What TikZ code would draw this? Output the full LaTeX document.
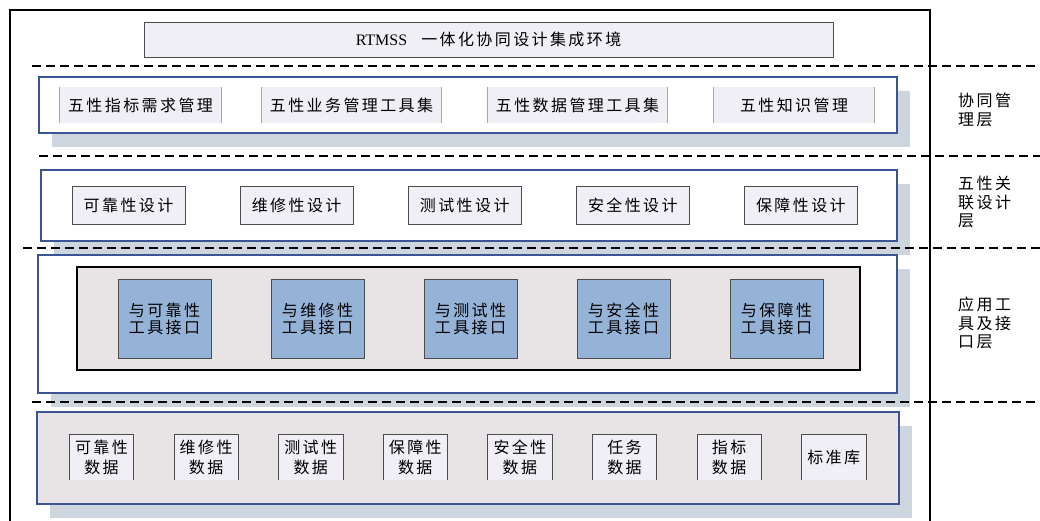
\documentclass[tikz,border=0pt]{standalone}
\usepackage{fontspec}
\setmainfont{Liberation Serif}
\newfontfamily\cjk[LetterSpace=15]{Noto Sans CJK SC}
\usepackage{xcolor}
\usepackage{tikz}
\usetikzlibrary{shadows}
\definecolor{layerblue}{RGB}{58,84,148}
\definecolor{shadowgray}{RGB}{205,213,222}
\definecolor{paleface}{RGB}{240,239,245}
\definecolor{panelgray}{RGB}{232,228,230}
\definecolor{ifaceblue}{RGB}{149,179,215}

\begin{document}
\begin{tikzpicture}
  [x=1pt,y=-1pt,
   every node/.style={inner sep=0pt,align=center,font=\cjk\fontsize{16}{17}\selectfont},
   layer/.style={draw=layerblue,line width=1.6pt,fill=white,
     drop shadow={shadow xshift=13pt,shadow yshift=-14pt,fill=shadowgray,opacity=1}},
   sep/.style={line width=1.8pt,dash pattern=on 9pt off 5pt},
   tool/.style={fill=paleface,minimum height=36},
   toolside/.style={draw=gray!70,line width=1pt},
   design/.style={draw=black!70,line width=0.8pt,fill=paleface,minimum width=113,minimum height=38},
   iface/.style={draw=black!70,line width=0.8pt,fill=ifaceblue,minimum width=93,minimum height=79},
   datum/.style={fill=paleface,minimum width=64,minimum height=45,font=\cjk\fontsize{16}{20}\selectfont},
   sidelabel/.style={anchor=north west,align=left,font=\cjk\fontsize{16}{18.5}\selectfont}]
  \useasboundingbox (0,0) rectangle (1040,520);

  % outer frame, its right edge splits off the layer names
  \draw[line width=1.5pt] (10,521) -- (10,10) -- (930,10) -- (930,521);

  \node[draw=black!70,line width=0.8pt,fill=paleface,minimum width=689,minimum height=35] (title) at (488.5,39.5)
    {{\rmfamily RTMSS}\hspace{14pt}一体化协同设计集成环境};

  % the four layers
  \node[layer,minimum width=858,minimum height=56] (L1) at (468,105) {};
  \node[layer,minimum width=856,minimum height=71] (L2) at (469,205.5) {};
  \node[layer,minimum width=859,minimum height=138] (L3) at (467.5,324) {};
  \node[layer,fill=panelgray,minimum width=862,minimum height=92] (L4) at (468,458) {};

  % separators
  \draw[sep] (32,66) -- (1040,66);
  \draw[sep] (39,156) -- (1040,156);
  \draw[sep] (23,248) -- (1040,248);
  \draw[sep] (32,402) -- (1040,402);

  % collaborative management layer
  \foreach \name/\x/\w/\txt in {ma/140.5/161/五性指标需求管理, mb/351.5/179/五性业务管理工具集,
                                mc/577.5/179/五性数据管理工具集, md/794/160/五性知识管理}
  {
    \node[tool,minimum width=\w] (\name) at (\x,105) {\txt};
    \draw[toolside] (\name.north west) -- (\name.south west) (\name.north east) -- (\name.south east);
  }

  % design layer
  \foreach \i/\txt in {1/可靠性设计, 2/维修性设计, 3/测试性设计, 4/安全性设计, 5/保障性设计}
    \node[design] (d\i) at ({128.5+168.1*(\i-1)},205) {\txt};

  % tool interface layer
  \node[draw=black,line width=2.2pt,fill=panelgray,minimum width=783,minimum height=103] (frame) at (468.5,318.5) {};
  \foreach \i/\txt in {1/可靠性, 2/维修性, 3/测试性, 4/安全性, 5/保障性}
    \node[iface] (f\i) at ({164.5+153*(\i-1)},318.5) {与\txt\\工具接口};

  % data layer
  \foreach \i/\txt in {1/可靠性\\数据, 2/维修性\\数据, 3/测试性\\数据, 4/保障性\\数据,
                       5/安全性\\数据, 6/任务\\数据, 7/指标\\数据, 8/标准库}
  {
    \node[datum] (s\i) at ({101.5+104.6*(\i-1)},457.5) {\txt};
    \draw[black!70,line width=0.8pt] (s\i.south west) -- (s\i.north west) -- (s\i.north east) -- (s\i.south east);
  }

  % layer names
  \node[sidelabel] (n1) at (958,93) {协同管\\理层};
  \node[sidelabel] (n2) at (958,176) {五性关\\联设计\\层};
  \node[sidelabel] (n3) at (958,297) {应用工\\具及接\\口层};
\end{tikzpicture}
\end{document}
